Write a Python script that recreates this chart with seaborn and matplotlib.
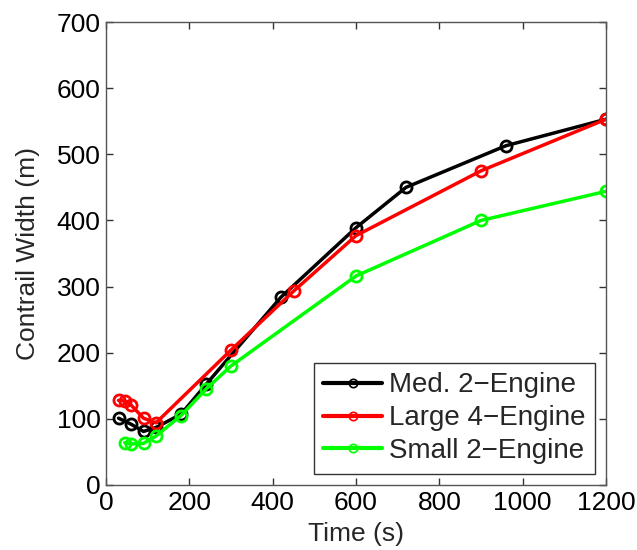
import matplotlib
matplotlib.use("Agg")
import matplotlib.pyplot as plt
import pandas as pd
import seaborn as sns


# ---------------------------------------------------------
# Data
# ---------------------------------------------------------

med_time = [30, 60, 90, 120, 180, 240, 420, 600, 720, 960, 1200]
med_width = [101, 92, 81, 87, 107, 152, 284, 389, 450, 513, 553]

large_time = [30, 45, 60, 90, 120, 300, 450, 600, 900, 1200]
large_width = [128, 127, 121, 101, 94, 204, 293, 377, 475, 553]

small_time = [45, 60, 90, 120, 180, 240, 300, 600, 900, 1200]
small_width = [64, 62, 63, 74, 105, 145, 180, 316, 400, 444]

series_names = ["Med. 2\u2212Engine", "Large 4\u2212Engine", "Small 2\u2212Engine"]
series_colors = ["#000000", "#ff0000", "#00ff00"]


# ---------------------------------------------------------
# Plot
# ---------------------------------------------------------

sns.set_style("ticks")
plt.rcParams["font.family"] = ["Liberation Sans", "DejaVu Sans"]

fig = plt.figure(figsize=(6.37, 5.5), dpi=100)
ax = fig.add_axes([106 / 637, 65 / 550, 500 / 637, 463 / 550])

series = [
    (med_time, med_width),
    (large_time, large_width),
    (small_time, small_width),
]

for (t, w), name, color in zip(series, series_names, series_colors):

    df = pd.DataFrame({"Time": t, "Width": w})

    sns.lineplot(
        data=df,
        x="Time",
        y="Width",
        ax=ax,
        color=color,
        linewidth=2.5,
        marker="o",
        markersize=8,
        markerfacecolor="none",
        markeredgecolor=color,
        markeredgewidth=2,
        label=name,
    )

ax.set_xlim(0, 1200)
ax.set_ylim(0, 700)
ax.set_xticks(range(0, 1201, 200))
ax.set_yticks(range(0, 701, 100))

ax.tick_params(
    direction="in",
    top=True,
    right=True,
    labelsize=19,
    length=5,
    width=1,
    colors="#333333",
    labelcolor="black",
    pad=4,
)

for spine in ax.spines.values():
    spine.set_visible(True)
    spine.set_color("#555555")
    spine.set_linewidth(1)

ax.set_xlabel("Time (s)", fontsize=19, labelpad=5)
ax.set_ylabel("Contrail Width (m)", fontsize=19, labelpad=12)

leg = ax.legend(
    loc="lower right",
    fontsize=20,
    frameon=True,
    fancybox=False,
    edgecolor="black",
    handlelength=2.1,
    borderpad=0.35,
    labelspacing=0.25,
    handletextpad=0.25,
    borderaxespad=0.4,
)
leg.get_frame().set_linewidth(1)

for line in leg.get_lines():
    line.set_markersize(6)
    line.set_markeredgewidth(1.2)
    line.set_markerfacecolor("none")
    line.set_linewidth(3)

fig.savefig("out.png", dpi=100, facecolor="white")
